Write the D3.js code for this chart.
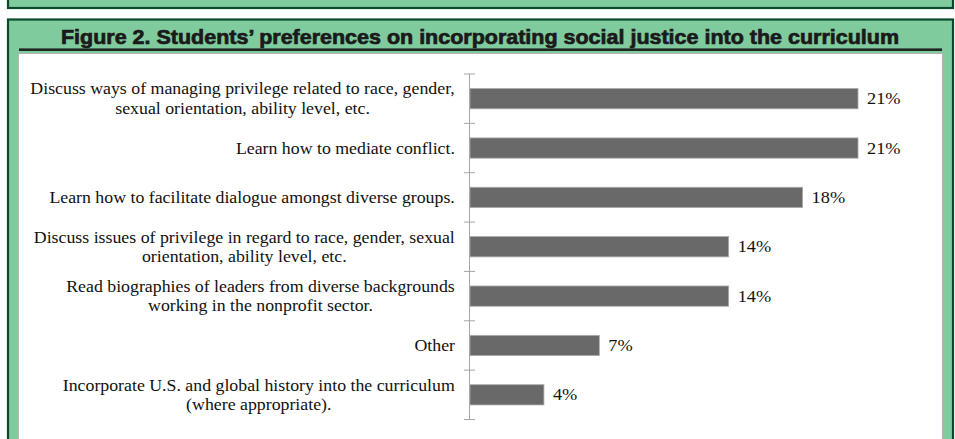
<!DOCTYPE html>
<html>
<head>
<meta charset="utf-8">
<script src="https://cdn.jsdelivr.net/npm/d3@7/dist/d3.min.js"></script>
<style>
  html, body { margin: 0; padding: 0; background: #ffffff; }
  svg { display: block; }
</style>
</head>
<body>
<svg id="chart" width="955" height="439"></svg>
<script>
// Survey responses: preferred ways of bringing social justice into the curriculum
const titleText = "Figure 2. Students\u2019 preferences on incorporating social justice into the curriculum";

const categories = [
  ["Discuss ways of managing privilege related to race, gender,", "sexual orientation, ability level, etc."],
  ["Learn how to mediate conflict."],
  ["Learn how to facilitate dialogue amongst diverse groups."],
  ["Discuss issues of privilege in regard to race, gender, sexual", "orientation, ability level, etc."],
  ["Read biographies of leaders from diverse backgrounds", "working in the nonprofit sector."],
  ["Other"],
  ["Incorporate U.S. and global history into the curriculum", "(where appropriate)."]
];

const shares = [21, 21, 18, 14, 14, 7, 4];

const svg = d3.select("#chart");

const green = "#80cb9e";
const darkGreen = "#0a4a2b";

// Frame of the panel above (only its lower edge is visible)
svg.append("rect")
  .attr("x", 8).attr("y", -20)
  .attr("width", 945).attr("height", 28)
  .attr("fill", green)
  .attr("stroke", darkGreen).attr("stroke-width", 2.2);

// Figure frame
svg.append("rect")
  .attr("x", 8).attr("y", 19.5)
  .attr("width", 945).attr("height", 440)
  .attr("fill", green)
  .attr("stroke", darkGreen).attr("stroke-width", 2.2);

// Title (heavy condensed look: bold face squeezed to width, thickened with a stroke)
svg.append("text")
  .attr("x", 480).attr("y", 44)
  .attr("text-anchor", "middle")
  .attr("font-family", "'Liberation Sans', Arial, sans-serif")
  .attr("font-weight", "bold")
  .attr("font-size", 20.5)
  .attr("fill", "#1a1a1a")
  .attr("stroke", "#1a1a1a")
  .attr("stroke-width", 0.7)
  .attr("textLength", 838)
  .attr("lengthAdjust", "spacingAndGlyphs")
  .text(titleText);

// Rule under the title
svg.append("rect")
  .attr("x", 19).attr("y", 48.4)
  .attr("width", 923).attr("height", 2.6)
  .attr("fill", "#1e2621");

// White chart panel
svg.append("rect")
  .attr("x", 18.5).attr("y", 53.5)
  .attr("width", 924).attr("height", 400)
  .attr("fill", "#ffffff")
  .attr("stroke", "#b4b4b4").attr("stroke-width", 1);

// Scales
const idx = categories.map((d, i) => i);
const y = d3.scaleBand()
  .domain(idx)
  .range([74, 419.5])
  .paddingInner(0.59)
  .paddingOuter(0.295);

const x = d3.scaleLinear()
  .domain([0, 21])
  .range([470, 858]);

const axisX = 469.5;

// Category axis with crossing tick marks at slot boundaries
const g = svg.append("g");
g.append("line")
  .attr("x1", axisX).attr("x2", axisX)
  .attr("y1", y.range()[0]).attr("y2", y.range()[1])
  .attr("stroke", "#a6a6a6").attr("stroke-width", 1);

const boundaries = d3.range(categories.length + 1).map(i => y.range()[0] + i * y.step());
g.selectAll("line.tick")
  .data(boundaries)
  .join("line")
  .attr("class", "tick")
  .attr("x1", axisX - 5.5).attr("x2", axisX + 5.5)
  .attr("y1", d => d).attr("y2", d => d)
  .attr("stroke", "#a6a6a6").attr("stroke-width", 1);

// Bars
svg.append("g").selectAll("rect")
  .data(shares)
  .join("rect")
  .attr("x", x(0))
  .attr("y", (d, i) => y(i))
  .attr("width", d => x(d) - x(0))
  .attr("height", y.bandwidth())
  .attr("fill", "#696969")
  .attr("stroke", "#a9a9a9")
  .attr("stroke-width", 0.8);

const serif = "'Liberation Serif', 'Times New Roman', serif";
const stretch = 1.08;   // wide-set serif text

// Value labels
svg.append("g").selectAll("text")
  .data(shares)
  .join("text")
  .attr("transform", (d, i) =>
    `translate(${x(d) + 9},${y(i) + y.bandwidth() / 2 + 5.5}) scale(${stretch + 0.03},1)`)
  .attr("font-family", serif)
  .attr("font-size", 16.5)
  .attr("fill", "#111")
  .text(d => d + "%");

// Category labels: lines centred on each other, block right-aligned to the axis
const labelRight = 455;
const lineGap = 19.5;
const labels = svg.append("g")
  .attr("font-family", serif)
  .attr("font-size", 16.5)
  .attr("fill", "#111");

categories.forEach((lines, i) => {
  const cy = y(i) + y.bandwidth() / 2;
  const grp = labels.append("g");
  const texts = lines.map(ln =>
    grp.append("text").attr("text-anchor", "middle").text(ln)
  );
  const maxW = d3.max(texts, t => t.node().getComputedTextLength()) * stretch;
  const cx = labelRight - maxW / 2;
  texts.forEach((t, k) => {
    const ly = cy + (k - (lines.length - 1) / 2) * lineGap + 5.5;
    t.attr("transform", `translate(${cx},${ly}) scale(${stretch},1)`);
  });
});
</script>
</body>
</html>
